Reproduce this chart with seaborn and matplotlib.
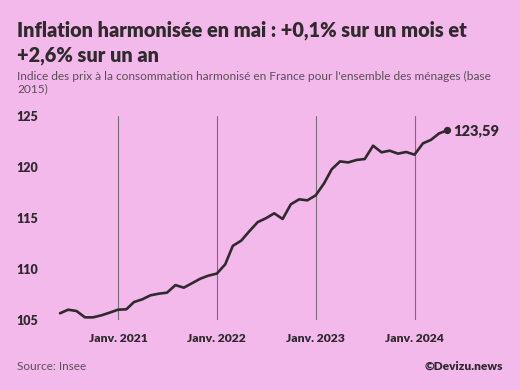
import matplotlib
matplotlib.use("Agg")
import matplotlib.pyplot as plt
import seaborn as sns
import pandas as pd

# Data: monthly HICP France (base 2015), June 2020 -> May 2024
months = pd.date_range("2020-06-01", "2024-05-01", freq="MS")
values = [
    105.66, 106.01, 105.88, 105.26, 105.26, 105.46, 105.72,
    106.01, 106.05, 106.76, 107.03, 107.42, 107.58, 107.68, 108.42, 108.17, 108.60, 109.05, 109.35,
    109.55, 110.46, 112.27, 112.78, 113.70, 114.60, 114.97, 115.46, 114.90, 116.34, 116.83, 116.73,
    117.22, 118.40, 119.77, 120.55, 120.45, 120.69, 120.78, 122.09, 121.44, 121.60, 121.31, 121.47,
    121.21, 122.32, 122.65, 123.30, 123.59,
]
last_label = "123,59"
y_ticks = [105, 110, 115, 120, 125]
x_ticks = pd.to_datetime(["2021-01-01", "2022-01-01", "2023-01-01", "2024-01-01"])
x_tick_labels = ["Janv. 2021", "Janv. 2022", "Janv. 2023", "Janv. 2024"]

title = "Inflation harmonisée en mai : +0,1% sur un mois et\n+2,6% sur un an"
subtitle = "Indice des prix à la consommation harmonisé en France pour l'ensemble des ménages (base\n2015)"

BG = "#F3B9EA"
DARK = "#2E2A2D"
GRAY = "#5A5058"

sns.set_theme(style="white")
plt.rcParams["font.family"] = ["Lato", "DejaVu Sans"]

W, H = 520, 390
fig = plt.figure(figsize=(W / 100, H / 100), dpi=100, facecolor=BG)
ax = fig.add_axes([50 / W, 1 - 320 / H, (505 - 50) / W, (320 - 116) / H])
ax.set_facecolor(BG)

df = pd.DataFrame({"date": months, "value": values})
sns.lineplot(data=df, x="date", y="value", ax=ax, color=DARK, linewidth=1.9)
ax.plot(df["date"].iloc[-1], df["value"].iloc[-1], "o", color=DARK, markersize=4.2)
ax.annotate(last_label, (df["date"].iloc[-1], df["value"].iloc[-1]),
            xytext=(4.5, 0), textcoords="offset points", va="center", ha="left",
            fontsize=10.5, fontweight="heavy", color=DARK)

ax.set_ylim(105, 125)
ax.set_xlim(pd.Timestamp("2020-04-25"), pd.Timestamp("2024-11-30"))
for d in x_ticks:
    ax.axvline(d, color="#7A6E78", linewidth=0.8, zorder=0)

ax.set_yticks(y_ticks)
ax.set_yticklabels([str(v) for v in y_ticks], fontsize=9, fontweight="heavy", color=DARK)
ax.set_xticks(x_ticks)
ax.set_xticklabels(x_tick_labels, fontsize=8.7, fontweight="heavy", color=DARK)
ax.tick_params(axis="y", length=0, pad=8.5)
ax.tick_params(axis="x", length=0, pad=9)
ax.set_xlabel("")
ax.set_ylabel("")
for s in ax.spines.values():
    s.set_visible(False)

fig.text(17 / W, 1 - 20 / H, title, fontsize=14.3, fontweight="heavy", color=DARK,
         va="top", ha="left", linespacing=1.38)
fig.text(17 / W, 1 - 71 / H, subtitle, fontsize=8.6, color=GRAY, va="top", ha="left",
         linespacing=1.1)
fig.text(17 / W, 1 - 366 / H, "Source: Insee", fontsize=8.5, color=GRAY, va="center", ha="left")
fig.text(503 / W, 1 - 366 / H, "©Devizu.news", fontsize=8.6, fontweight="heavy", color=DARK,
         va="center", ha="right")

fig.savefig("out.png", dpi=100, facecolor=BG)
